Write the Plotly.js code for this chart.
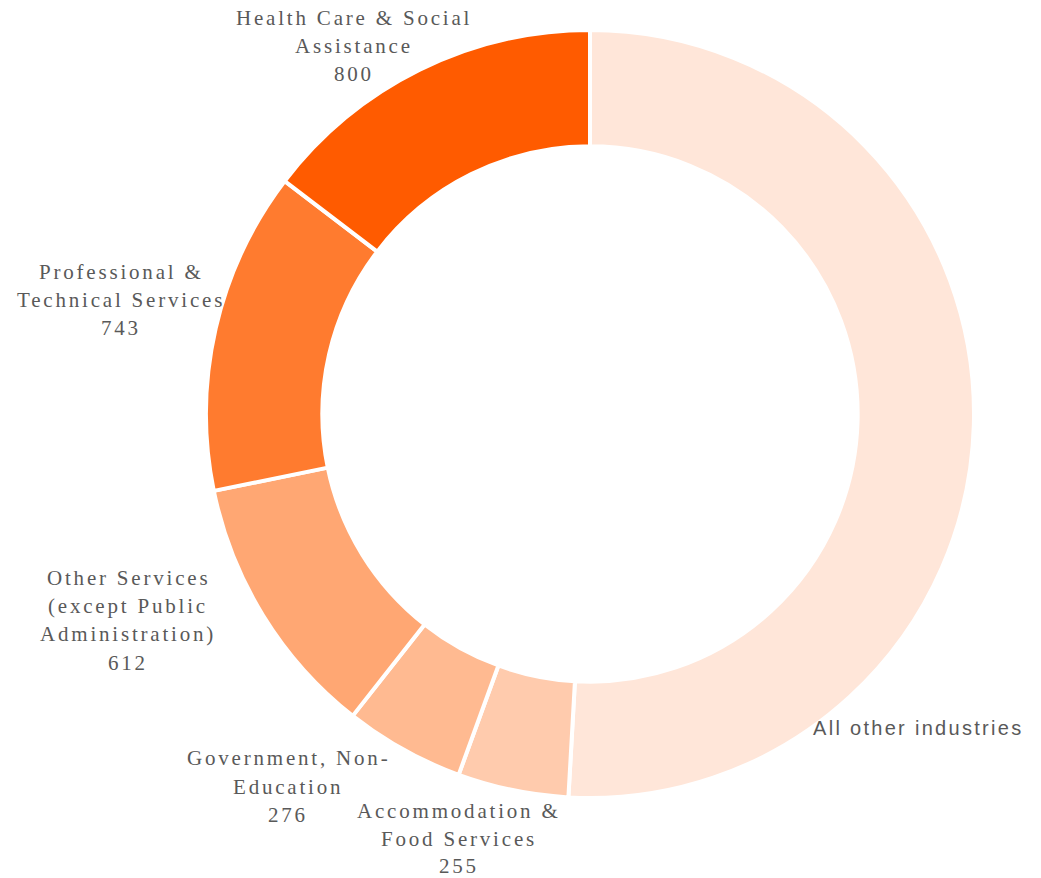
<!DOCTYPE html>
<html>
<head>
<meta charset="utf-8">
<script src="https://cdn.plot.ly/plotly-3.0.1.min.js"></script>
<style>
  html, body { margin: 0; padding: 0; background: #fff; }
  #chart { width: 1041px; height: 878px; }
  .annotation-text { letter-spacing: 2.8px; }
</style>
</head>
<body>
<div id="chart"></div>
<script>
// Data (clockwise from 12 o'clock)
const categories = [
  "All other industries",
  "Accommodation & Food Services",
  "Government, Non-Education",
  "Other Services (except Public Administration)",
  "Professional & Technical Services",
  "Health Care & Social Assistance"
];
const values = [2784, 255, 276, 612, 743, 800];
const labelLines = [
  ["All other industries"],
  ["Accommodation &", "Food Services"],
  ["Government, Non-", "Education"],
  ["Other Services", "(except Public", "Administration)"],
  ["Professional &", "Technical Services"],
  ["Health Care & Social", "Assistance"]
];
const showValue = [false, true, true, true, true, true];
const colors = ["#FFE6D9", "#FFCBAD", "#FFBA91", "#FFA773", "#FF7B2F", "#FF5B00"];

// Label placement (pixels: center x, top line center y, line step)
const labelPos = [
  {x: 918, y: 728, lh: 28, sans: true},
  {x: 459, y: 811, lh: 27.5},
  {x: 288, y: 758, lh: 28.5},
  {x: 128, y: 578, lh: 28.2},
  {x: 121, y: 272, lh: 28.2},
  {x: 354, y: 18, lh: 28.2}
];

const W = 1041, H = 878;
const cx = 590, cy = 414, R = 384;

const trace = {
  type: "pie",
  labels: categories,
  values: values,
  sort: false,
  direction: "clockwise",
  rotation: 0,
  hole: 0.697,
  textinfo: "none",
  hoverinfo: "label+value",
  marker: { colors: colors, line: { color: "#ffffff", width: 4 } },
  domain: { x: [(cx - R) / W, (cx + R) / W], y: [1 - (cy + R) / H, 1 - (cy - R) / H] },
  showlegend: false
};

const annotations = [];
categories.forEach((c, i) => {
  const lines = labelLines[i].slice();
  if (showValue[i]) lines.push(String(values[i]));
  const p = labelPos[i];
  lines.forEach((ln, k) => {
    annotations.push({
      xref: "paper", yref: "paper",
      x: p.x / W, y: 1 - (p.y + k * p.lh) / H,
      xanchor: "center", yanchor: "middle",
      text: ln, showarrow: false,
      font: p.sans
        ? { family: "Liberation Sans", size: 20, color: "#595959" }
        : { family: "Liberation Serif", size: 21, color: "#595959" }
    });
  });
});

const layout = {
  width: W, height: H,
  margin: { l: 0, r: 0, t: 0, b: 0 },
  paper_bgcolor: "#ffffff",
  plot_bgcolor: "#ffffff",
  annotations: annotations
};

Plotly.newPlot("chart", [trace], layout, { displayModeBar: false, staticPlot: true }).then(() => {
  document.querySelectorAll(".annotation-text").forEach(t => {
    if (t.style.fontFamily.indexOf("Sans") >= 0) t.style.letterSpacing = "2.3px";
  });
});
</script>
</body>
</html>
